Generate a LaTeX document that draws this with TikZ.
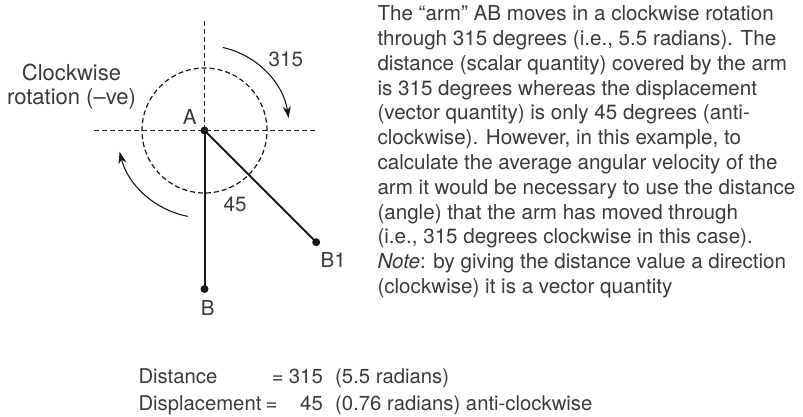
\documentclass[tikz,border=0pt]{standalone}
\usepackage{fontspec}
\setmainfont{TeX Gyre Heros}
\usepackage{tikz}
\usetikzlibrary{arrows.meta,calc}
\definecolor{textgray}{HTML}{3A3A3A}
\definecolor{inkblack}{HTML}{1A1A1A}

\begin{document}
\begin{tikzpicture}[x=1pt, y=1pt,
  dot/.style={circle, fill=inkblack, inner sep=0pt, minimum size=8pt},
  lbl/.style={inner sep=0pt, text=textgray, font=\fontsize{20.6}{24.8}\selectfont},
  sumlbl/.style={inner sep=0pt, text=textgray, font=\fontsize{20.3}{26.7}\selectfont},
  guide/.style={inkblack, line width=1.2pt, dash pattern=on 5pt off 3pt},
  armline/.style={inkblack, line width=2pt},
  turn/.style={inkblack, line width=1.1pt, -{Stealth[length=12pt, width=8pt]}}]

  \useasboundingbox (0,0) rectangle (803,417);

  % Pivot and the two arm ends
  \node[dot] (A) at (204.5, 286.5) {};
  \node[dot] (B) at (204.5, 128) {};
  \node[dot] (B1) at (316.2, 174.8) {};

  % Reference axes and circle through A
  \coordinate (top) at (204.5, 396.3);
  \coordinate (left) at (94.3, 286.5);
  \coordinate (right) at (316, 286.5);
  \draw[guide] (A.center) -- (top);
  \draw[guide] (left) -- (right);
  \draw[guide] (A.center) circle (62.5);

  % Arm AB and its new position AB1
  \draw[armline] (A.center) -- (B.center);
  \draw[armline] (A.center) -- (B1.center);

  % Clockwise rotation arrows
  \draw[turn] ([shift={(77.6:85)}]A.center) arc[start angle=77.6, end angle=8.4, radius=85];
  \draw[turn] ([shift={(259:87.5)}]A.center) arc[start angle=259, end angle=194, radius=87.5];

  % Point and angle labels
  \node[lbl] (labA) at (189.7, 300.3) {A};
  \node[lbl] (labB) at (207.8, 108.8) {B};
  \node[lbl] (labB1) at (333.3, 156.8) {B1};
  \node[lbl] (ang315) at (285.8, 357.8) {315};
  \node[lbl] (ang45) at (235, 212.8) {45};
  \node[lbl, font=\fontsize{22}{24.5}\selectfont, align=center, anchor=base] (cw) at (71.5, 312) {Clockwise\\rotation (–ve)};

  % Explanation (base = last line)
  \node[lbl, align=left, anchor=base west] (para) at (377.3, 123.5) {%
    The “arm” AB moves in a clockwise rotation\\
    through 315 degrees (i.e., 5.5 radians). The\\
    distance (scalar quantity) covered by the arm\\
    is 315 degrees whereas the displacement\\
    (vector quantity) is only 45 degrees (anti-\\
    clockwise). However, in this example, to\\
    calculate the average angular velocity of the\\
    arm it would be necessary to use the distance\\
    (angle) that the arm has moved through\\
    (i.e., 315 degrees clockwise in this case).\\
    \textit{Note}: by giving the distance value a direction\\
    (clockwise) it is a vector quantity};

  % Summary
  \node[sumlbl, anchor=base west] (dist) at (138.3, 33) {Distance};
  \node[sumlbl, anchor=base west] (eq1) at (271.7, 33) {=};
  \node[sumlbl, anchor=base east] (val1) at (323, 33) {315};
  \node[sumlbl, anchor=base west] (rad1) at (335, 33) {(5.5 radians)};
  \node[sumlbl, anchor=base west] (disp) at (138.3, 6.3) {Displacement};
  \node[sumlbl, anchor=base west] (eq2) at (265.5, 6.3) {=};
  \node[sumlbl, anchor=base east] (val2) at (323, 6.3) {45};
  \node[sumlbl, anchor=base west] (rad2) at (335, 6.3) {(0.76 radians) anti-clockwise};

\end{tikzpicture}
\end{document}
